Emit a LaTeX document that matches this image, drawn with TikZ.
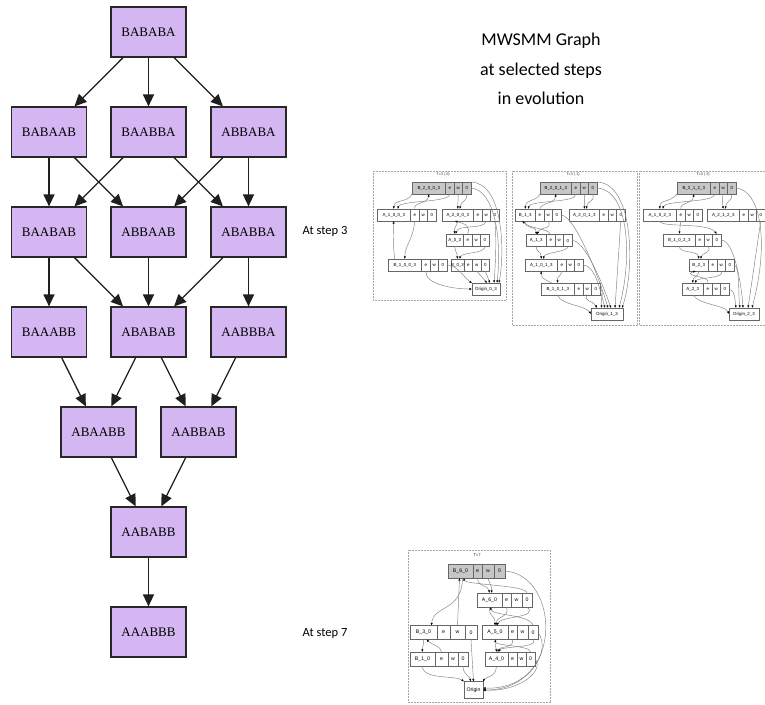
\documentclass[tikz,border=0pt]{standalone}
\usepackage{fontspec}
\setmainfont{Liberation Serif}
\newfontfamily\calib{Carlito}
\newfontfamily\hsans{Liberation Sans}
\usetikzlibrary{arrows.meta}
\definecolor{lav}{RGB}{212,182,242}
\definecolor{mline}{RGB}{40,40,40}
\tikzset{
  mbox/.style={draw=mline, fill=lav, line width=1.2pt, minimum width=75pt, minimum height=50pt, inner sep=0pt, font=\fontsize{13}{15}\selectfont},
  medge/.style={-{Triangle[length=12pt,width=11pt]}, line width=1.3pt, black!88},
  rf/.style={draw=black!60, line width=0.45pt, inner sep=0pt, outer sep=0pt, minimum height=12pt, text=black, font=\hsans\fontsize{4.4}{5}\selectfont},
  rf4/.style={minimum height=14pt, font=\hsans\fontsize{5.2}{6}\selectfont},
  rroot/.style={fill=black!22},
  se/.style={draw=black!50, line width=0.45pt, -{Latex[length=2.6pt,width=2.2pt,black]}},
  fr/.style={draw=black!35, line width=0.45pt, dash pattern=on 0.6pt off 0.9pt},
  ttl/.style={font=\hsans\fontsize{3.8}{4}\selectfont, text=black!80, inner sep=0pt},
  lbl/.style={font=\calib\fontsize{12.5}{15}\selectfont, inner sep=0pt}
}
\newcommand\mrec[9]{%
  \node[rf,#9,minimum width=#5pt,anchor=west] (#1) at (#2,#3) {#4};
  \node[rf,#9,minimum width=#6pt,anchor=west] (#1e) at (#1.east) {e};
  \node[rf,#9,minimum width=#7pt,anchor=west] (#1w) at (#1e.east) {w};
  \node[rf,#9,minimum width=#8pt,anchor=west] (#1z) at (#1w.east) {0};}
\begin{document}
\begin{tikzpicture}[x=1pt,y=-1pt]
\useasboundingbox (0,0) rectangle (765,704);
\fill[white] (0,0) rectangle (765,704);
% ---------------- main graph ----------------
\node[mbox] (n1) at (148.5,32) {BABABA};
\node[mbox] (n21) at (49,132) {BABAAB};
\node[mbox] (n22) at (148.5,132) {BAABBA};
\node[mbox] (n23) at (248.5,132) {ABBABA};
\node[mbox] (n31) at (49,232) {BAABAB};
\node[mbox] (n32) at (148.5,232) {ABBAAB};
\node[mbox] (n33) at (248.5,232) {ABABBA};
\node[mbox] (n41) at (49,332) {BAAABB};
\node[mbox] (n42) at (148.5,332) {ABABAB};
\node[mbox] (n43) at (248.5,332) {AABBBA};
\node[mbox] (n51) at (98.5,432) {ABAABB};
\node[mbox] (n52) at (198.5,432) {AABBAB};
\node[mbox] (n6) at (148.5,532) {AABABB};
\node[mbox] (n7) at (148.5,632) {AAABBB};
\draw[medge] (n1) -- (n21);
\draw[medge] (n1) -- (n22);
\draw[medge] (n1) -- (n23);
\draw[medge] (n21) -- (n31);
\draw[medge] (n21) -- (n32);
\draw[medge] (n22) -- (n31);
\draw[medge] (n22) -- (n33);
\draw[medge] (n23) -- (n32);
\draw[medge] (n23) -- (n33);
\draw[medge] (n31) -- (n41);
\draw[medge] (n31) -- (n42);
\draw[medge] (n32) -- (n42);
\draw[medge] (n33) -- (n42);
\draw[medge] (n33) -- (n43);
\draw[medge] (n41) -- (n51);
\draw[medge] (n42) -- (n51);
\draw[medge] (n42) -- (n52);
\draw[medge] (n43) -- (n52);
\draw[medge] (n51) -- (n6);
\draw[medge] (n52) -- (n6);
\draw[medge] (n6) -- (n7);
% ---------------- texts ----------------
\node[font=\calib\fontsize{18}{29.5}\selectfont, align=center, inner sep=0pt] (title) at (541,69) {MWSMM Graph\\at selected steps\\in evolution};
\node[lbl] (s3) at (325,231) {At step 3};
\node[lbl] (s7) at (325,633) {At step 7};
% ---------------- graph 1 ----------------
\draw[fr] (373,171) rectangle (506,300);
\node[ttl] (t1) at (443,175) {T=3 ( 0)};
\mrec{g1r}{412}{188}{B\_2\_0\_0\_3}{33.5}{8.5}{8.5}{8.5}{rroot}
\mrec{g1a}{377}{215}{A\_1\_0\_0\_3}{33.5}{8.5}{8.5}{8.5}{}
\mrec{g1b}{442}{215}{A\_2\_0\_0\_3}{31.5}{8.5}{8.5}{8.5}{}
\mrec{g1c}{446}{240}{A\_0\_3}{17.5}{8.5}{8.5}{8.5}{}
\mrec{g1d}{388}{265}{B\_1\_0\_0\_3}{33.5}{8.5}{8.5}{8.5}{}
\mrec{g1e}{451}{265}{B\_0\_3}{13}{8.5}{8.5}{8.5}{}
\node[rf, minimum width=28pt] (g1o) at (486,289) {Origin\_0\_3};
\draw[se] (g1r.south west) .. controls (408,203) and (394,199) .. (g1a.north);
\draw[se] (g1ae.north) .. controls (413,202) and (428,204) .. (g1r.south);
\draw[se] (g1re.south) .. controls (450,203) and (400,200) .. ([xshift=4pt]g1a.north);
\draw[se] (g1rw.south) .. controls (458,200) and (458,202) .. (g1b.north);
\draw[se] (g1rz.south) .. controls (467,203) and (462,199) .. ([xshift=2pt]g1b.north);
\draw[se] (g1b.south) .. controls (457,227) and (454,226) .. (g1c.north);
\draw[se] (g1bw.south) .. controls (485,230) and (458,224) .. ([xshift=1pt]g1c.north);
\draw[se] (g1ce.north) .. controls (470,226) and (466,224) .. ([xshift=-3pt]g1b.south);
\draw[se] (g1ae.south) .. controls (413,240) and (405,245) .. (g1d.north);
\draw[se] ([xshift=-10pt]g1d.north) .. controls (393,245) and (393,235) .. (g1a.south);
\draw[se] (g1c.south) .. controls (455,252) and (457,252) .. (g1e.north);
\draw[se] (g1cz.south) .. controls (486,254) and (462,252) .. ([xshift=2pt]g1e.north);
\draw[se] (g1de.south) .. controls (425,285) and (455,289) .. (g1o.west);
\draw[se] (g1dz.east) .. controls (458,265) and (464,278) .. (g1o.north west);
\draw[se] (g1ew.south) -- ([xshift=1pt]g1o.north);
\draw[se] (g1ez.south) -- ([xshift=4pt]g1o.north);
\draw[se] (g1bz.south) .. controls (497,240) and (495,270) .. ([xshift=8pt]g1o.north);
\draw[se] (g1rz.east) .. controls (495,190) and (502,240) .. ([xshift=11pt]g1o.north);
\draw[se] (g1rz.north east) .. controls (503,183) and (505,250) .. ([xshift=13pt]g1o.north);
% ---------------- graph 2 ----------------
\draw[fr] (512,171) rectangle (637,325);
\node[ttl] (t2) at (573,175) {T=3 ( 1)};
\mrec{g2r}{540}{188}{B\_2\_0\_1\_3}{31.5}{8.5}{8.5}{8.5}{rroot}
\mrec{g2a}{515}{215}{B\_1\_3}{20.5}{8.5}{8.5}{8.5}{}
\mrec{g2b}{569}{215}{A\_2\_0\_1\_3}{30.5}{8.5}{8.5}{8.5}{}
\mrec{g2c}{526}{240.5}{A\_1\_3}{20.5}{8.5}{8.5}{8.5}{}
\mrec{g2d}{525}{265}{A\_1\_0\_1\_3}{32.5}{8.5}{8.5}{8.5}{}
\mrec{g2e}{541}{289}{B\_1\_0\_1\_3}{33.5}{8.5}{8.5}{8.5}{}
\node[rf, minimum width=32pt] (g2o) at (607,314) {Origin\_1\_3};
\draw[se] (g2r.south west) .. controls (535,203) and (526,198) .. (g2a.north);
\draw[se] (g2ae.north) .. controls (542,202) and (555,204) .. (g2r.south);
\draw[se] (g2re.south) .. controls (578,203) and (530,200) .. ([xshift=3pt]g2a.north);
\draw[se] (g2rw.south) .. controls (585,200) .. (g2b.north);
\draw[se] (g2rz.south) .. controls (595,203) and (588,199) .. ([xshift=2pt]g2b.north);
\draw[se] (g2a.south) .. controls (525,230) and (536,225) .. (g2c.north);
\draw[se] (g2aw.south) .. controls (553,230) and (540,226) .. ([xshift=1pt]g2c.north);
\draw[se] (g2ce.north) .. controls (548,228) and (530,229) .. ([xshift=-3pt]g2a.south);
\draw[se] (g2c.south) .. controls (536,253) and (541,250) .. (g2d.north);
\draw[se] (g2cz.south) .. controls (568,252) and (545,252) .. ([xshift=2pt]g2d.north);
\draw[se] (g2de.south) .. controls (560,278) and (557,276) .. (g2e.north);
\draw[se] ([xshift=-6pt]g2e.north) .. controls (541,278) and (541,276) .. (g2d.south);
\draw[se] (g2e.south) .. controls (560,305) and (585,305) .. (g2o.west);
\draw[se] (g2ew.south) .. controls (583,302) and (593,300) .. ([xshift=-10pt]g2o.north);
\draw[se] (g2ez.east) .. controls (605,290) and (600,300) .. ([xshift=-5pt]g2o.north);
\draw[se] (g2dz.east) .. controls (595,265) and (600,290) .. ([xshift=-2pt]g2o.north);
\draw[se] (g2bz.south) -- ([xshift=8pt]g2o.north);
\draw[se] (g2az.east) .. controls (575,215) and (600,280) .. ([xshift=1pt]g2o.north);
\draw[se] (g2cz.east) .. controls (585,240) and (603,285) .. ([xshift=4pt]g2o.north);
\draw[se] (g2rz.east) .. controls (630,190) and (632,260) .. ([xshift=12pt]g2o.north);
\draw[se] (g2rz.north east) .. controls (634,183) and (635,270) .. ([xshift=15pt]g2o.north);
% ---------------- graph 3 ----------------
\draw[fr] (639,171) rectangle (767,325);
\node[ttl] (t3) at (703,175) {T=3 ( 2)};
\mrec{g3r}{677}{188}{B\_2\_1\_2\_3}{33.5}{8.5}{8.5}{8.5}{rroot}
\mrec{g3a}{643}{215}{A\_1\_0\_2\_3}{33.5}{8.5}{8.5}{8.5}{}
\mrec{g3b}{707}{215}{A\_2\_1\_2\_3}{32.5}{8.5}{8.5}{8.5}{}
\mrec{g3c}{663}{240}{B\_1\_0\_2\_3}{32.5}{8.5}{8.5}{8.5}{}
\mrec{g3d}{689}{265}{B\_2\_3}{19.5}{8.5}{8.5}{8.5}{}
\mrec{g3e}{682}{289}{A\_2\_3}{21.5}{8.5}{8.5}{8.5}{}
\node[rf, minimum width=30pt] (g3o) at (744,314) {Origin\_2\_3};
\draw[se] (g3r.south west) .. controls (670,203) and (660,199) .. (g3a.north);
\draw[se] (g3ae.north) .. controls (680,202) and (693,204) .. (g3r.south);
\draw[se] (g3re.south) .. controls (715,203) and (665,200) .. ([xshift=3pt]g3a.north);
\draw[se] (g3rw.south) .. controls (722,200) .. (g3b.north);
\draw[se] (g3rz.south) .. controls (732,203) and (727,199) .. ([xshift=2pt]g3b.north);
\draw[se] (g3ae.south) -- (g3c.north);
\draw[se] (g3a.south) .. controls (660,228) and (708,222) .. (g3cz.north);
\draw[se] (g3c.south) .. controls (679,254) and (698,250) .. (g3d.north);
\draw[se] (g3cw.south) .. controls (712,254) and (702,252) .. ([xshift=2pt]g3d.north);
\draw[se] (g3d.south) .. controls (698,278) and (693,276) .. (g3e.north);
\draw[se] (g3dw.south) .. controls (725,279) and (698,277) .. ([xshift=2pt]g3e.north);
\draw[se] (g3ee.north) .. controls (712,276) and (680,276) .. ([xshift=-3pt]g3d.south);
\draw[se] (g3e.south) .. controls (700,305) and (725,305) .. (g3o.west);
\draw[se] (g3ez.east) .. controls (735,290) and (735,300) .. ([xshift=-8pt]g3o.north);
\draw[se] (g3dz.east) .. controls (740,265) and (738,295) .. ([xshift=-4pt]g3o.north);
\draw[se] (g3cz.east) .. controls (735,240) and (742,290) .. ([xshift=-1pt]g3o.north);
\draw[se] (g3bz.south) -- ([xshift=4pt]g3o.north);
\draw[se] (g3rz.east) .. controls (760,190) and (770,240) .. ([xshift=8pt]g3o.north);
% ---------------- graph 4 ----------------
\draw[fr] (408,550) rectangle (550,702);
\node[ttl, font=\hsans\fontsize{4.2}{5}\selectfont] (t4) at (477,555) {T=7};
\mrec{g4b6}{448}{571}{B\_6\_0}{25}{9}{12}{11}{rf4,rroot}
\mrec{g4a6}{477}{600}{A\_6\_0}{25}{9}{11}{10}{rf4}
\mrec{g4b3}{410}{632.5}{B\_3\_0}{27}{13}{15}{12}{rf4}
\mrec{g4a5}{482}{632.5}{A\_5\_0}{26}{9}{11}{10}{rf4}
\mrec{g4b1}{410}{659}{B\_1\_0}{25}{13}{10}{10}{rf4}
\mrec{g4a4}{485}{659}{A\_4\_0}{23}{9}{9}{9}{rf4}
\node[rf, rf4, minimum width=19pt, minimum height=17pt] (g4o) at (473.5,690) {Origin};
\draw[se] (g4b3w.north) -- ([xshift=-1pt]g4b6.south);
\draw[se] ([xshift=2pt]g4b6.south) .. controls (462,612) and (433,605) .. ([xshift=8pt]g4b3.north);
\draw[se] (g4b6e.south) .. controls (478,588) and (488,584) .. (g4a6.north);
\draw[se] (g4a6z.north) .. controls (527,585) and (466,585) .. ([xshift=3pt]g4b6.south);
\draw[se] (g4b6w.south) .. controls (490,585) and (492,586) .. ([xshift=2pt]g4a6.north);
\draw[se] (g4b6z.east) .. controls (560,575) and (565,690) .. (g4o.east);
\draw[se] (g4a6.south) .. controls (489,618) and (495,614) .. (g4a5.north);
\draw[se] (g4a6e.south) .. controls (510,618) and (497,615) .. ([xshift=1pt]g4a5.north);
\draw[se] (g4a6z.south) .. controls (540,618) and (500,616) .. ([xshift=2pt]g4a5.north);
\draw[se] (g4a5z.north) .. controls (530,614) and (492,616) .. ([xshift=1pt]g4a6.south);
\draw[se] (g4a5.south) .. controls (495,648) and (496,645) .. (g4a4.north);
\draw[se] (g4a5e.south) .. controls (515,648) and (500,646) .. ([xshift=1pt]g4a4.north);
\draw[se] (g4a5z.south) .. controls (540,648) and (502,646) .. ([xshift=2pt]g4a4.north);
\draw[se] (g4a4z.north) .. controls (530,645) and (494,646) .. ([xshift=1pt]g4a5.south);
\draw[se] (g4b3.south) .. controls (424,648) and (422,645) .. (g4b1.north);
\draw[se] (g4b1e.north) .. controls (441,646) and (432,645) .. ([xshift=3pt]g4b3.south);
\draw[se] (g4b1.south) .. controls (422,680) and (455,675) .. (g4o.north west);
\draw[se] (g4b1z.south) .. controls (463,675) and (470,676) .. ([xshift=-3pt]g4o.north);
\draw[se] (g4b3z.south) -- (g4o.north);
\draw[se] (g4a4.south) .. controls (496,678) and (486,676) .. (g4o.north east);
\draw[se] (g4a4z.east) .. controls (545,670) and (520,692) .. (g4o.east);
\draw[se] (g4a5z.east) .. controls (552,650) and (530,690) .. ([yshift=2pt]g4o.east);
\end{tikzpicture}
\end{document}
